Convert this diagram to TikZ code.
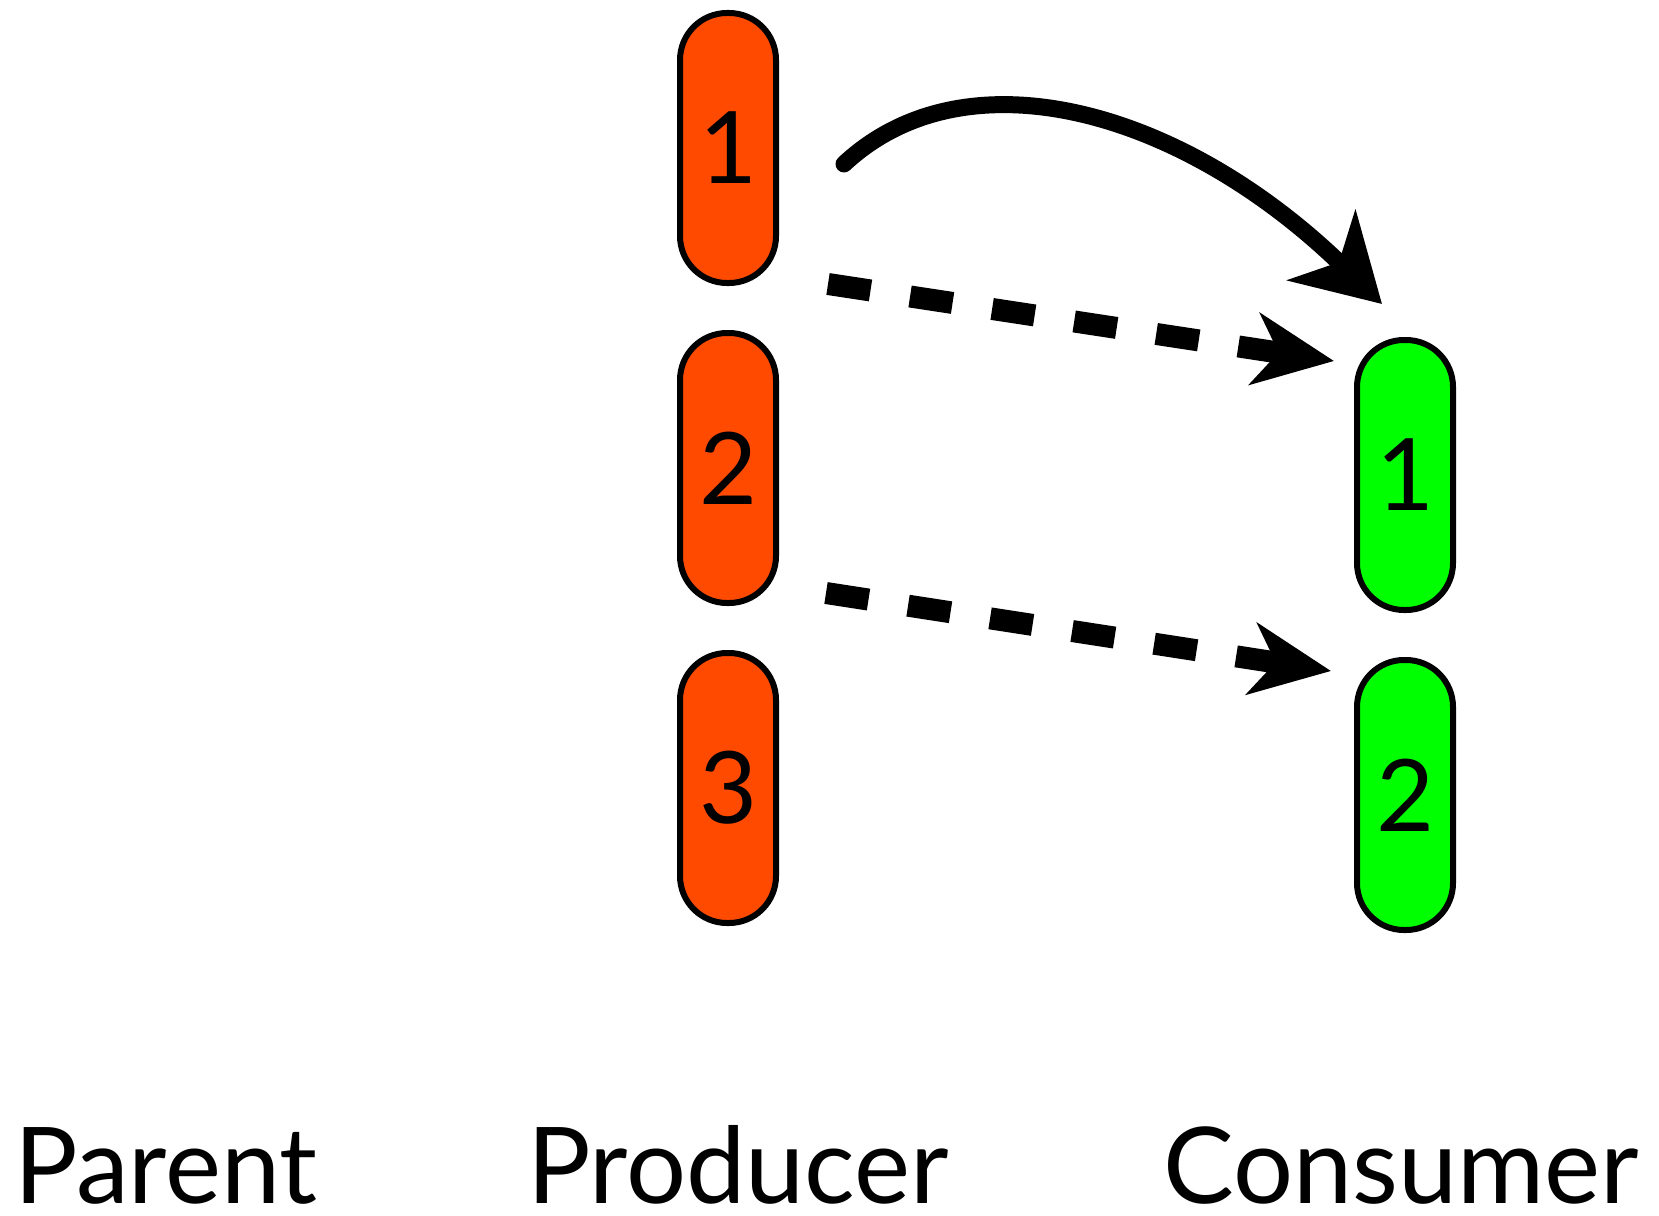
\documentclass[tikz,border=0pt]{standalone}
\usepackage{fontspec}
\setmainfont{Lato}
\usetikzlibrary{arrows.meta,calc}
\definecolor{prodred}{RGB}{255,74,0}
\definecolor{consgreen}{RGB}{0,255,0}
\begin{document}
\begin{tikzpicture}[x=1pt,y=-1pt,
  pill/.style={draw=black,line width=6pt,rounded corners=47pt,inner sep=0pt,
    minimum width=96pt,minimum height=270pt,font=\fontsize{100}{104}\selectfont},
  prodbox/.style={pill,fill=prodred},
  consbox/.style={pill,fill=consgreen},
  lbl/.style={anchor=base west,inner sep=0pt,text depth=0pt,font=\fontsize{106}{110}\selectfont},
  dasharrow/.style={line width=22pt,dash pattern=on 43pt off 40pt,
    -{Stealth[length=80pt,width=72pt,inset=24pt]}},
  sketcharrow/.style={line width=17pt,line cap=round,
    -{Stealth[length=84pt,width=97pt,inset=24pt]}}
]
\useasboundingbox (0,0) rectangle (1659,1215);
\node[prodbox] (p1) at (728,148) {1};
\node[prodbox] (p2) at (728,468) {2};
\node[prodbox] (p3) at (728,788) {3};
\node[consbox] (c1) at (1405,475) {1};
\node[consbox] (c2) at (1405,795) {2};

\node[lbl] (lp) at (14,1203) {Parent};
\node[lbl] (lpr) at (527,1203) {Producer};
\node[lbl] (lc) at (1163,1203) {Consumer};

\coordinate (a1s) at ($(p1.south east)+(49,-2)$);
\coordinate (a1e) at ($(c1.north west)+(-20,24)$);
\coordinate (a2s) at ($(p2.south east)+(47,-13)$);
\coordinate (a2e) at ($(c2.north west)+(-23,14)$);
\draw[dasharrow] (a1s) -- (a1e);
\draw[dasharrow] (a2s) -- (a2e);

\coordinate (s1) at ($(p1.east)+(65,16)$);
\coordinate (s2) at ($(c1.north)+(-23,-33)$);
\draw[sketcharrow] (s1) .. controls (966,50) and (1181,109) .. (s2);
\end{tikzpicture}
\end{document}
